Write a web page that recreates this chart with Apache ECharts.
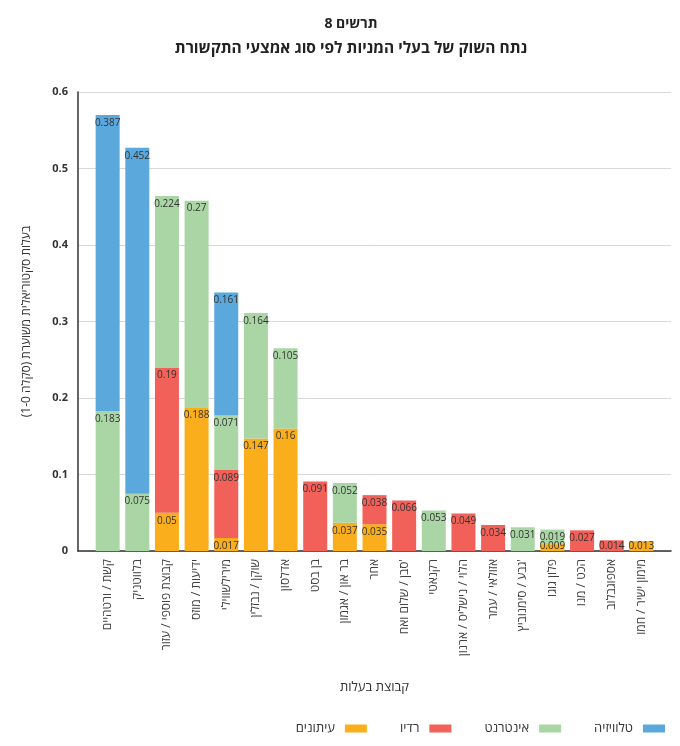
<!DOCTYPE html>
<html>
<head>
<meta charset="utf-8">
<script src="https://cdn.jsdelivr.net/npm/echarts@6/dist/echarts.min.js"></script>
<style>
  html, body { margin: 0; padding: 0; background: #fff; }
  #chart { width: 680px; height: 746px; }
</style>
</head>
<body>
<div id="chart"></div>
<script>
// קבוצות בעלות, משמאל לימין
const categories = [
  'קשת / ורטהיים', 'בלווטניק', 'קבוצת פוספי / עזור', 'ידיעות / מוזס', 'מירילשווילי',
  'שוקן / נבזלין', 'אדלסון', 'בן בסט', 'בר און / אגמון', 'אחר',
  'סבן / שלום ואח\'', 'רקנאטי', 'הלוי / נישליס / ארנון', 'אזולאי / עמר', 'גבע / סימנוביץ\'',
  'פלון גוגו', 'הכט / מנו', 'אספוגבלוב', 'מימון ישיר / חמו'
];

// '-' = אין ערך
const newspapers = [ '-', '-', 0.05, 0.188, 0.017, 0.147, 0.16, '-', 0.037, 0.035, '-', '-', '-', '-', '-', 0.009, '-', '-', 0.013 ];
const radio      = [ '-', '-', 0.19, '-', 0.089, '-', '-', 0.091, '-', 0.038, 0.066, '-', 0.049, 0.034, '-', '-', 0.027, 0.014, '-' ];
const internet   = [ 0.183, 0.075, 0.224, 0.27, 0.071, 0.164, 0.105, '-', 0.052, '-', '-', 0.053, '-', '-', 0.031, 0.019, '-', '-', '-' ];
const tv         = [ 0.387, 0.452, '-', '-', 0.161, '-', '-', '-', '-', '-', '-', '-', '-', '-', '-', '-', '-', '-', '-' ];

const yTicks = [0, 0.1, 0.2, 0.3, 0.4, 0.5, 0.6];

const font = "'Open Sans', 'DejaVu Sans', sans-serif";

// חצי משבצת ריקה בכל צד של הציר; תוויות של עמודות זעירות נצמדות לבסיס
const pad = arr => ['-'].concat(arr.map(v =>
  (v !== '-' && v < 0.015) ? { value: v, label: { position: 'insideBottom', distance: 0 } } : v
), ['-']);

const chart = echarts.init(document.getElementById('chart'));

function bar(name, data, color) {
  return {
    name: name,
    type: 'bar',
    stack: 'total',
    barWidth: 24,
    data: pad(data),
    itemStyle: { color: color },
    label: {
      show: true,
      position: 'insideTop',
      distance: 3,
      color: '#333',
      fontSize: 10,
      fontFamily: font
    }
  };
}

chart.setOption({
  textStyle: { fontFamily: font },
  title: {
    text: 'תרשים 8',
    subtext: 'נתח השוק של בעלי המניות לפי סוג אמצעי התקשורת',
    left: 346,
    textAlign: 'center',
    top: 12,
    itemGap: 10,
    textStyle: { fontSize: 14, fontWeight: 'bold', color: '#222', fontFamily: font },
    subtextStyle: { fontSize: 15.5, fontWeight: 'bold', color: '#222', fontFamily: font }
  },
  legend: {
    data: ['עיתונים', 'רדיו', 'אינטרנט', 'טלוויזיה'],
    right: 10,
    bottom: 6,
    align: 'right',
    itemWidth: 22,
    itemHeight: 8,
    itemGap: 33,
    icon: 'rect',
    textStyle: { fontSize: 13, color: '#333', fontFamily: font, padding: [0, 5, 0, 0] }
  },
  grid: { left: 78, right: 9, top: 92, bottom: 195, containLabel: false },
  xAxis: {
    type: 'category',
    data: [''].concat(categories, ['']),
    boundaryGap: false,
    name: 'קבוצת בעלות',
    nameLocation: 'middle',
    nameGap: 130,
    nameTextStyle: { fontSize: 13, color: '#333', fontFamily: font },
    axisLine: { lineStyle: { color: '#333', width: 1.5 } },
    axisTick: { show: false },
    axisLabel: {
      interval: 0,
      rotate: 90,
      margin: 8,
      fontSize: 12,
      color: '#404040',
      fontFamily: font
    }
  },
  yAxis: {
    type: 'value',
    min: yTicks[0],
    max: yTicks[yTicks.length - 1],
    interval: 0.1,
    name: 'בעלות סקטוריאלית משוערת (סקלה 1-0)',
    nameLocation: 'middle',
    nameGap: 45,
    nameTextStyle: { fontSize: 12, color: '#333', fontFamily: font },
    axisLine: { show: true, lineStyle: { color: '#333', width: 1.5 } },
    axisTick: { show: false },
    axisLabel: { fontSize: 11, fontWeight: 'bold', color: '#333', margin: 10, fontFamily: font },
    splitLine: { lineStyle: { color: '#d9d9d9' } }
  },
  series: [
    bar('עיתונים', newspapers, '#FAAE1B'),
    bar('רדיו', radio, '#F1615A'),
    bar('אינטרנט', internet, '#A9D6A4'),
    bar('טלוויזיה', tv, '#5BA8DC')
  ]
});
</script>
</body>
</html>
